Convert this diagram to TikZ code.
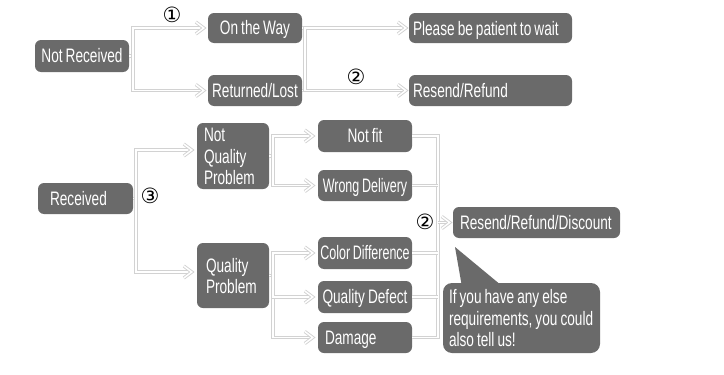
\documentclass[tikz,border=0pt]{standalone}
\usepackage{fontspec}
\usetikzlibrary{calc}
\newfontfamily\boxfont{Liberation Sans}[FakeStretch=0.7, WordSpace=0.8]
\newfontfamily\narrowfont{Liberation Sans}[FakeStretch=0.64, WordSpace=0.8]
\newfontfamily\numfont{DejaVu Sans}
\definecolor{boxgray}{HTML}{6A6A6A}
\definecolor{linegray}{HTML}{D2D2D2}
\newcommand\ltext[2]{\makebox[#1][l]{\raisebox{-3pt}[\height][\depth]{\begin{tabular}{@{}l@{}}#2\end{tabular}}}}
\tikzset{
  box/.style={fill=boxgray, text=white, rounded corners=6pt, inner ysep=0pt, inner xsep=0pt,
    font=\boxfont\fontsize{19.5}{21.5}\selectfont},
  cbox/.style={box, minimum width=#1, align=center, text height=13pt, text depth=0pt},
  lbox/.style={box, minimum width=#1},
  narrow/.style={font=\narrowfont\fontsize{19.5}{21.5}\selectfont},
  conn/.style={draw=linegray, double=white, double distance=1.5pt, line width=0.9pt, line join=miter},
  num/.style={font=\numfont\fontsize{21}{21}\selectfont, inner sep=0pt, text=black}
}
\newcommand\chevat[2]{%
  \draw[conn] ([shift={(-#2-8pt,6pt)}]#1.west) -- ([xshift=-#2]#1.west) -- ([shift={(-#2-8pt,-6pt)}]#1.west);}
\begin{document}
\begin{tikzpicture}[x=1pt,y=-1pt]
\fill[white] (0,0) rectangle (724,375);
\useasboundingbox (0,0) rectangle (724,375);

% ---- top section
\node[cbox=94, minimum height=32] (nr) at (82,56) {Not Received};
\node[cbox=94, minimum height=30] (otw) at (255,28) {On the Way};
\node[cbox=94, minimum height=31] (rl) at (255,90.5) {Returned/Lost};
\node[lbox=163, minimum height=30] (pbp) at (490.5,28) {\ltext{155pt}{Please be patient to wait}};
\node[lbox=163, minimum height=31] (rr) at (490.5,90.5) {\ltext{155pt}{Resend/Refund}};

\coordinate (j1) at (133,56);
\coordinate (j2) at (305,60);
\draw[conn] (nr.east) -- (j1);
\draw[conn] ([xshift=-4pt]otw.west) -| (j1) |- ([xshift=-4pt]rl.west);
\chevat{otw}{4pt}
\chevat{rl}{4pt}
\draw[conn] (otw.east) -- (otw.east -| j2);
\draw[conn] (rl.east) -- (rl.east -| j2);
\draw[conn] ([xshift=-3pt]pbp.west) -| (j2) |- ([xshift=-3pt]rr.west);
\chevat{pbp}{3pt}
\chevat{rr}{3pt}

\node[num] (n1) at (172,15) {①};
\node[num] (n2) at (356,77) {②};

% ---- bottom section
\node[lbox=95, minimum height=31] (rec) at (85.5,198.5) {\ltext{71pt}{Received}};
\node[lbox=72, minimum height=66] (nqp) at (233,156) {\ltext{58pt}{Not\\Quality\\Problem}};
\node[lbox=72, minimum height=65] (qp) at (233,275.5) {\ltext{54pt}{Quality\\Problem}};

\node[cbox=94, minimum height=32] (nf) at (365,136) {Not fit};
\node[cbox=94, minimum height=31, narrow] (wd) at (365,185.5) {Wrong Delivery};
\node[cbox=94, minimum height=32, narrow] (cd) at (365,253) {Color Difference};
\node[cbox=94, minimum height=32] (qd) at (365,297) {Quality Defect};
\node[lbox=94, minimum height=31] (dm) at (365,337.5) {\ltext{80pt}{Damage}};

\node[lbox=167, minimum height=31] (rrd) at (536.5,222.5) {\ltext{153pt}{Resend/Refund/Discount}};
\node[lbox=157, minimum height=70, rounded corners=9pt] (co) at (521.5,318)
  {\ltext{145pt}{If you have any else\\requirements, you could\\also tell us!}};
\coordinate (tip) at (455,247);
\fill[boxgray] (tip) -- ([shift={(19pt,-3pt)}]co.north west) -- ([shift={(59pt,-3pt)}]co.north west) -- cycle;

\coordinate (j3) at (136,198.5);
\draw[conn] (rec.east) -- (j3);
\draw[conn] ([shift={(-5pt,6pt)}]nqp.west) -| (j3) |- ([shift={(-5pt,3.5pt)}]qp.west);
\draw[conn] ([shift={(-13pt,12pt)}]nqp.west) -- ([shift={(-5pt,6pt)}]nqp.west) -- ([shift={(-13pt,0pt)}]nqp.west);
\draw[conn] ([shift={(-13pt,9.5pt)}]qp.west) -- ([shift={(-5pt,3.5pt)}]qp.west) -- ([shift={(-13pt,-2.5pt)}]qp.west);

\coordinate (j4) at (273,156);
\draw[conn] (nqp.east) -- (j4);
\draw[conn] ([xshift=-5pt]nf.west) -| (j4) |- ([xshift=-5pt]wd.west);
\chevat{nf}{5pt}
\chevat{wd}{5pt}

\coordinate (j5) at (273,275.5);
\draw[conn] (qp.east) -- (j5);
\draw[conn] ([xshift=-5pt]cd.west) -| (j5) |- ([xshift=-5pt]dm.west);
\draw[conn] (j5) |- ([xshift=-5pt]qd.west);
\chevat{cd}{5pt}
\chevat{qd}{5pt}
\chevat{dm}{5pt}

\coordinate (j6) at (438,222.5);
\draw[conn] (nf.east) -| (j6) |- (dm.east);
\draw[conn] (wd.east) -- (wd.east -| j6);
\draw[conn] (cd.east) -- (cd.east -| j6);
\draw[conn] (qd.east) -- (qd.east -| j6);
\draw[conn] (j6) -- ([xshift=-3pt]rrd.west);
\chevat{rrd}{3pt}

\node[num] (n3) at (150,196) {③};
\node[num] (n4) at (425,222) {②};
\end{tikzpicture}
\end{document}
